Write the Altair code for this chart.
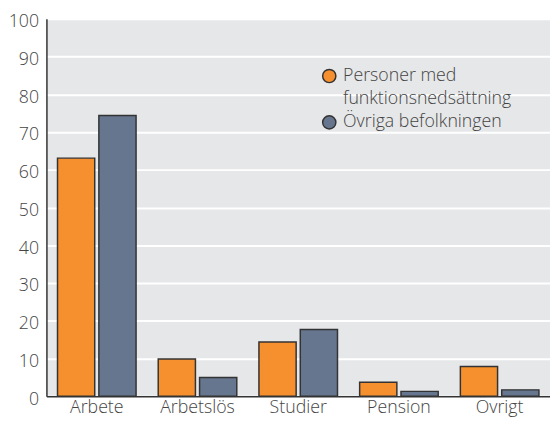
import altair as alt
import pandas as pd

categories = ["Arbete", "Arbetslös", "Studier", "Pension", "Övrigt"]
series = ["Personer med funktionsnedsättning", "Övriga befolkningen"]
disabled = [63.1, 9.9, 14.4, 3.7, 7.9]
others = [74.4, 5.0, 17.7, 1.3, 1.7]
colors = ["#F6902E", "#66768E"]
y_ticks = [0, 10, 20, 30, 40, 50, 60, 70, 80, 90, 100]

rows = []
for i, c in enumerate(categories):
    rows.append({"cat": c, "grp": series[0], "val": disabled[i]})
    rows.append({"cat": c, "grp": series[1], "val": others[i]})
df = pd.DataFrame(rows)

FONT = "Open Sans"

chart = alt.Chart(df).mark_bar(stroke="#333333", strokeWidth=1.5).encode(
    x=alt.X(
        "cat:N", sort=categories, title=None,
        scale=alt.Scale(paddingInner=0.22, paddingOuter=0.11),
        axis=alt.Axis(labelAngle=0, labelFontSize=18, labelFont=FONT, labelColor="#444444",
                      labelFontWeight=300,
                      ticks=False, domainColor="#333333", domainWidth=1.5, labelPadding=2,
                      grid=False, zindex=1),
    ),
    xOffset=alt.XOffset("grp:N", sort=series, scale=alt.Scale(paddingInner=0.1, paddingOuter=0)),
    y=alt.Y(
        "val:Q", title=None,
        scale=alt.Scale(domain=[0, 100], nice=False),
        axis=alt.Axis(values=y_ticks, labelFontSize=18, labelFont=FONT, labelColor="#444444",
                      labelFontWeight=300, labelOffset=3,
                      ticks=False, domainColor="#333333", domainWidth=1.5, labelPadding=8,
                      grid=True, gridColor="#FFFFFF", gridWidth=2),
    ),
    color=alt.Color(
        "grp:N", sort=series,
        scale=alt.Scale(domain=series, range=colors),
        legend=alt.Legend(
            title=None, orient="none", legendX=278, legendY=49, direction="vertical",
            symbolType="circle", symbolSize=180, symbolStrokeColor="#333333",
            symbolStrokeWidth=1.5, labelFontSize=18, labelFont=FONT, labelColor="#444444",
            labelFontWeight=300,
            labelLimit=400, labelOffset=5, padding=0, rowPadding=5,
            labelExpr="datum.label == 'Personer med funktionsnedsättning' ? ['Personer med', 'funktionsnedsättning'] : datum.label",
        ),
    ),
).properties(
    width=511, height=383,
    padding={"left": 39, "top": 8, "right": 0, "bottom": 18},
    autosize=alt.AutoSizeParams(type="none"),
    background="white",
).configure(
    view=alt.ViewConfig(fill="#E6E7E8", strokeWidth=0),
    style={"guide-label": {"lineHeight": 23}},
)

chart.save("out.html", embed_options={"renderer": "svg", "actions": False})
